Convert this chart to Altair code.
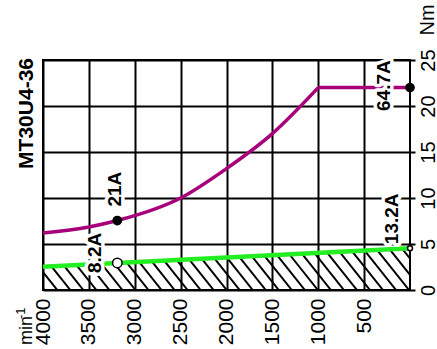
import altair as alt
import numpy as np
import pandas as pd

FONT = "Liberation Sans"

# Peak torque curve (magenta), speed in min^-1, torque in Nm
peak_speed = [4000, 3500, 3190, 2500, 2000, 1500, 1000, 0]
peak_torque = [6.2, 6.85, 7.55, 10.0, 13.2, 17.0, 22.0, 22.0]

# Continuous torque line (green)
cont_speed = [4000, 0]
cont_torque = [2.53, 4.55]

# Marked operating points with their currents
pt_speed = [3190, 0, 3190, 0]
pt_torque = [7.55, 22.0, 2.94, 4.55]
pt_label = ["21A", "64.7A", "8.2A", "13.2A"]
pt_filled = [True, True, False, False]

speed_ticks = [500, 1000, 1500, 2000, 2500, 3000, 3500, 4000]
torque_ticks = [0, 5, 10, 15, 20, 25]

CORNER_SPEED = 1000  # where the peak curve turns into the flat torque limit

peak_df = pd.DataFrame({"speed": peak_speed, "torque": peak_torque})
cont_df = pd.DataFrame({"speed": cont_speed, "torque": cont_torque})
pts_df = pd.DataFrame({"speed": pt_speed, "torque": pt_torque,
                       "label": pt_label, "filled": pt_filled})

# Diagonal hatching below the continuous torque line
HATCH_STEP = 142   # rpm between neighbouring hatch lines along the floor
HATCH_LEAN = 80    # rpm each hatch line leans per Nm of height
slope = (cont_torque[1] - cont_torque[0]) / (cont_speed[0] - cont_speed[1])
bottoms = np.arange(-700, 4600, HATCH_STEP)
tops_t = (cont_torque[1] - slope * bottoms) / (1 + slope * HATCH_LEAN)
hatch_df = pd.DataFrame({
    "speed": bottoms,
    "torque": np.zeros_like(bottoms, dtype=float),
    "speed2": bottoms + HATCH_LEAN * tops_t,
    "torque2": tops_t,
})

x_scale = alt.Scale(domain=[0, 4000], reverse=True, nice=False)
y_scale = alt.Scale(domain=[0, 25], nice=False)

x_axis = alt.Axis(values=speed_ticks, format="d", labelAngle=270,
                  labelAlign="right", labelBaseline="middle", labelFont=FONT,
                  labelFontSize=21, labelColor="black", ticks=False,
                  domain=False, labelPadding=8, grid=True, gridColor="black",
                  gridWidth=2, gridOpacity=1, labelOverlap=False, title=None)
y_axis = alt.Axis(orient="right", values=torque_ticks, format="d",
                  labelAngle=270, labelAlign="center", labelBaseline="top",
                  labelFont=FONT, labelFontSize=20, labelColor="black",
                  tickSize=5, tickWidth=2, tickColor="black", domain=False,
                  labelPadding=3, grid=True, gridColor="black", gridWidth=2,
                  gridOpacity=1, labelOverlap=False, title=None)


def X(field="speed"):
    return alt.X(f"{field}:Q", scale=x_scale, axis=x_axis)


def Y(field="torque"):
    return alt.Y(f"{field}:Q", scale=y_scale, axis=y_axis)


hatch = alt.Chart(hatch_df).mark_rule(color="black", strokeWidth=2, clip=True).encode(
    x=X(), y=Y(), x2="speed2:Q", y2="torque2:Q")

cont_line = alt.Chart(cont_df).mark_line(color="#22ee22", strokeWidth=4.5).encode(
    x=X(), y=Y())

peak_curve = alt.Chart(peak_df).transform_filter(
    alt.datum.speed >= CORNER_SPEED).mark_line(
    color="#a8007a", strokeWidth=3.5, interpolate="monotone").encode(x=X(), y=Y())

peak_flat = alt.Chart(peak_df).transform_filter(
    alt.datum.speed <= CORNER_SPEED).mark_line(
    color="#a8007a", strokeWidth=3.5).encode(x=X(), y=Y())

# Label placement: (align, dx, dy) in the rotated text frame
label_style = {
    "21A": ("left", 14, -2),
    "64.7A": ("center", 2, -26),
    "8.2A": ("left", -10, -22),
    "13.2A": ("left", 4, -18),
}

halo_layers = []
text_layers = []
for lab, (align, dx, dy) in label_style.items():
    src = alt.Chart(pts_df).transform_filter(alt.datum.label == lab)
    common = dict(angle=270, align=align, baseline="middle", dx=dx, dy=dy,
                  font=FONT, fontSize=19, fontWeight="bold")
    halo_layers.append(src.mark_text(color="white", stroke="white",
                                     strokeWidth=7, strokeJoin="round",
                                     **common).encode(x=X(), y=Y(), text="label:N"))
    text_layers.append(src.mark_text(color="black", **common).encode(
        x=X(), y=Y(), text="label:N"))

big_dots = alt.Chart(pts_df).transform_filter(
    (alt.datum.filled == True)).mark_point(
    shape="circle", filled=True, color="black", size=95, opacity=1).encode(x=X(), y=Y())

open_big = alt.Chart(pts_df).transform_filter(
    alt.datum.label == "8.2A").mark_point(
    shape="circle", filled=True, fill="white", stroke="black", strokeWidth=1.5,
    size=90, opacity=1).encode(x=X(), y=Y())

open_small = alt.Chart(pts_df).transform_filter(
    alt.datum.label == "13.2A").mark_point(
    shape="circle", filled=True, fill="white", stroke="black", strokeWidth=1.5,
    size=25, opacity=1).encode(x=X(), y=Y())

# Title, unit labels
corner = pd.DataFrame({"speed": [4000], "torque": [25.0]})
origin = pd.DataFrame({"speed": [4000], "torque": [0.0]})
top_right = pd.DataFrame({"speed": [0], "torque": [25.0]})

title = alt.Chart(corner).mark_text(
    text="MT30U4-36", angle=270, align="right", baseline="alphabetic",
    dx=2, dy=-10, font=FONT, fontSize=21, fontWeight="bold", color="black",
).encode(x=X(), y=Y())

unit_nm = alt.Chart(top_right).mark_text(
    text="Nm", angle=270, align="center", baseline="top", dx=40, dy=8,
    font=FONT, fontSize=20, color="black").encode(x=X(), y=Y())

unit_min = alt.Chart(origin).mark_text(
    text="min", angle=270, align="left", baseline="alphabetic", dx=-55, dy=-11,
    font=FONT, fontSize=18, color="black").encode(x=X(), y=Y())

unit_exp = alt.Chart(origin).mark_text(
    text="-1", angle=270, align="left", baseline="alphabetic", dx=-29, dy=-18,
    font=FONT, fontSize=13, color="black").encode(x=X(), y=Y())

chart = alt.layer(
    hatch, cont_line, peak_curve, peak_flat, *halo_layers, *text_layers,
    big_dots, open_big, open_small, title, unit_nm, unit_min, unit_exp,
).properties(
    width=367, height=230,
    autosize=alt.AutoSizeParams(type="none"),
    padding={"left": 43, "top": 60, "right": 27, "bottom": 59},
    background="white",
).configure_view(stroke="black", strokeWidth=2)

chart.save("out.html", embed_options={"renderer": "svg", "actions": False})
